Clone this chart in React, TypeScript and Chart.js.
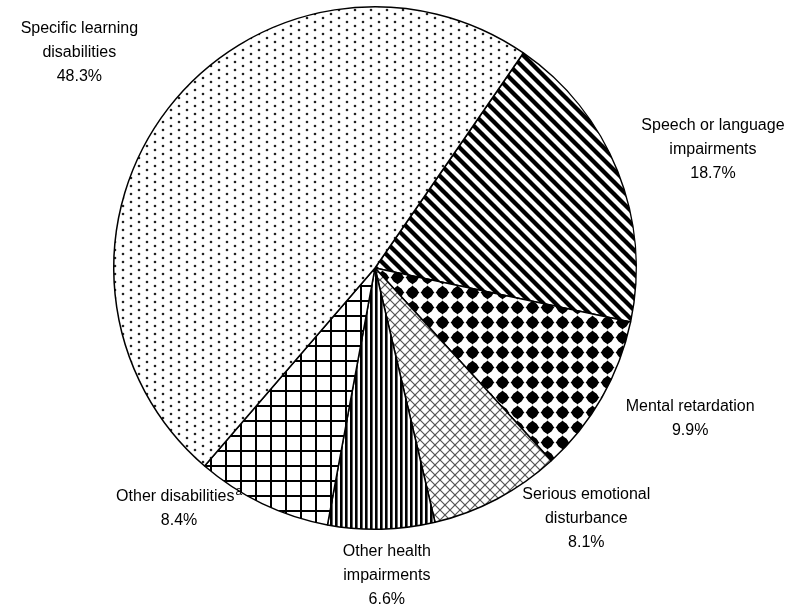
import React, { useEffect, useRef } from "react";
import { Chart, registerables } from "chart.js";

Chart.register(...registerables);

// ---- data ----
const categories = [
  "Speech or language impairments",
  "Mental retardation",
  "Serious emotional disturbance",
  "Other health impairments",
  "Other disabilities",
  "Specific learning disabilities",
];
const percentages = [18.7, 9.9, 8.1, 6.6, 8.4, 48.3];
const labelLines = [
  ["Speech or language", "impairments"],
  ["Mental retardation"],
  ["Serious emotional", "disturbance"],
  ["Other health", "impairments"],
  ["Other disabilities"],
  ["Specific learning", "disabilities"],
];
const superscripts = ["", "", "", "", "a", ""];

// ---- layout (label placement relative to each slice's mid-angle) ----
const labelAngleShift = [2.5, -4.2, -12.3, -0.8, 13.5, -1.6]; // degrees
const labelRadiusFactor = [1.37, 1.337, 1.254, 1.18, 1.189, 1.4];
const patternKinds = ["diag", "diamond", "cross", "vstripe", "grid", "dots"];

function makePattern(kind: string): CanvasPattern | string {
  const c = document.createElement("canvas");
  let w = 10, h = 10;
  if (kind === "dots") { w = 16; h = 8; }
  if (kind === "diag") { w = 12; h = 12; }
  if (kind === "diamond") { w = 15; h = 15; }
  if (kind === "cross") { w = 10; h = 10; }
  if (kind === "vstripe") { w = 5; h = 5; }
  if (kind === "grid") { w = 15; h = 15; }
  c.width = w; c.height = h;
  const ctx = c.getContext("2d")!;
  ctx.fillStyle = "#fff";
  ctx.fillRect(0, 0, w, h);
  if (kind === "dots") {
    ctx.fillStyle = "#222";
    ctx.beginPath(); ctx.arc(3, 2, 1.3, 0, Math.PI * 2); ctx.fill();
    ctx.beginPath(); ctx.arc(11, 6, 1.3, 0, Math.PI * 2); ctx.fill();
  } else if (kind === "diag") {
    ctx.strokeStyle = "#000";
    ctx.lineWidth = 4.3;
    for (const k of [-12, 0, 12]) {
      ctx.beginPath();
      ctx.moveTo(-6, -6 + k);
      ctx.lineTo(18, 18 + k);
      ctx.stroke();
    }
  } else if (kind === "diamond") {
    ctx.fillStyle = "#000";
    ctx.beginPath();
    ctx.moveTo(7.5, 0.6); ctx.lineTo(14.4, 7.5); ctx.lineTo(7.5, 14.4); ctx.lineTo(0.6, 7.5);
    ctx.closePath(); ctx.fill();
    ctx.beginPath(); ctx.arc(7.5, 7.5, 5.5, 0, Math.PI * 2); ctx.fill();
  } else if (kind === "cross") {
    ctx.strokeStyle = "#555";
    ctx.lineWidth = 1.2;
    for (const k of [-10, 0, 10]) {
      ctx.beginPath(); ctx.moveTo(-2 + k, -2); ctx.lineTo(12 + k, 12); ctx.stroke();
      ctx.beginPath(); ctx.moveTo(12 + k, -2); ctx.lineTo(-2 + k, 12); ctx.stroke();
    }
  } else if (kind === "vstripe") {
    ctx.fillStyle = "#000";
    ctx.fillRect(0, 0, 2.6, h);
  } else if (kind === "grid") {
    ctx.fillStyle = "#000";
    ctx.fillRect(0, 0, 2, h);
    ctx.fillRect(0, 0, w, 2);
  }
  const p = ctx.createPattern(c, "repeat");
  return p || "#fff";
}

const FONT = '16px "Liberation Sans", Arial, sans-serif';
const SUP_FONT = '12px "Liberation Sans", Arial, sans-serif';
const LINE_H = 24;

const labelPlugin = {
  id: "sliceLabels",
  afterDatasetsDraw(chart: any) {
    const ctx: CanvasRenderingContext2D = chart.ctx;
    const meta = chart.getDatasetMeta(0);
    ctx.save();
    ctx.fillStyle = "#000";
    ctx.textBaseline = "middle";
    meta.data.forEach((arc: any, i: number) => {
      const { x, y, startAngle, endAngle, outerRadius } = arc.getProps(
        ["x", "y", "startAngle", "endAngle", "outerRadius"],
        true
      );
      const mid = (startAngle + endAngle) / 2 + (labelAngleShift[i] * Math.PI) / 180;
      const r = outerRadius * labelRadiusFactor[i];
      const cx = x + Math.cos(mid) * r;
      const cy = y + Math.sin(mid) * r;
      const lines = [...labelLines[i], percentages[i].toFixed(1) + "%"];
      const n = lines.length;
      lines.forEach((line, j) => {
        const ly = cy + (j - (n - 1) / 2) * LINE_H;
        const sup = j === labelLines[i].length - 1 ? superscripts[i] : "";
        ctx.font = FONT;
        const wMain = ctx.measureText(line).width;
        let wSup = 0;
        if (sup) {
          ctx.font = SUP_FONT;
          wSup = ctx.measureText(sup).width + 1;
        }
        const left = cx - (wMain + wSup) / 2;
        ctx.textAlign = "left";
        ctx.font = FONT;
        ctx.fillText(line, left, ly);
        if (sup) {
          ctx.font = SUP_FONT;
          ctx.fillText(sup, left + wMain + 1, ly - 5);
        }
      });
    });
    ctx.restore();
  },
};

export default function App() {
  const ref = useRef<HTMLCanvasElement | null>(null);
  useEffect(() => {
    if (!ref.current) return;
    const patterns = patternKinds.map((k) => makePattern(k));
    const chart = new Chart(ref.current, {
      type: "pie",
      data: {
        labels: categories,
        datasets: [
          {
            data: percentages,
            backgroundColor: patterns as any,
            borderColor: "#000",
            borderWidth: 1.5,
            hoverOffset: 0,
          },
        ],
      },
      options: {
        responsive: false,
        animation: false,
        rotation: 34.6,
        layout: { padding: { left: 113, right: 167, top: 6, bottom: 83 } },
        plugins: {
          legend: { display: false },
          tooltip: { enabled: false },
        },
        events: [],
      },
      plugins: [labelPlugin],
    });
    return () => chart.destroy();
  }, []);
  return (
    <div
      style={{
        position: "fixed",
        left: 0,
        top: 0,
        width: 804,
        height: 613,
        background: "#fff",
      }}
    >
      <canvas ref={ref} width={804} height={613} style={{ display: "block" }} />
    </div>
  );
}
